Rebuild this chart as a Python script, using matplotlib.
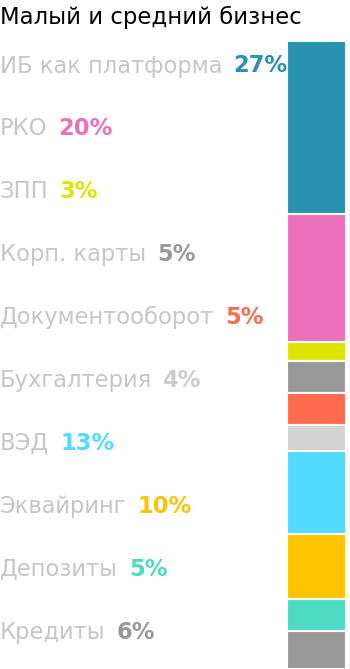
import matplotlib.pyplot as plt

title = 'Малый и средний бизнес'
categories = ['ИБ как платформа', 'РКО', 'ЗПП', 'Корп. карты', 'Документооборот',
              'Бухгалтерия', 'ВЭД', 'Эквайринг', 'Депозиты', 'Кредиты']
shares = [27, 20, 3, 5, 5, 4, 13, 10, 5, 6]
colors = ['#2892b0', '#ec6fbc', '#dfe300', '#999999', '#ff6b4d',
          '#d3d3d3', '#52daff', '#ffc400', '#4ddbc3', '#999999']
label_colors = ['#2892b0', '#ec6fbc', '#dfe300', '#999999', '#ff6b4d',
                '#cccccc', '#52daff', '#ffc400', '#4ddbc3', '#999999']

plt.rcParams['font.family'] = ['DejaVu Sans']

W, H = 350, 669
fig = plt.figure(figsize=(W / 100, H / 100), dpi=100)

# stacked bar on the right
axb = fig.add_axes([287 / W, 0, 59 / W, (H - 41) / H])
bottom = 0
for val, col in zip(shares, colors):
    axb.bar(0, val, bottom=bottom, width=1, color=col, edgecolor='white', linewidth=1.5)
    bottom += val
axb.set_xlim(-0.5, 0.5)
axb.set_ylim(sum(shares), 0)
axb.axis('off')

# labels on the left
axl = fig.add_axes([0, 0, 287 / W, 1])
axl.set_xlim(0, 287)
axl.set_ylim(H, 0)
axl.axis('off')

fig.text(0, 1 - 17 / H, title, fontsize=16.4, color='black', va='center', ha='left')

for i, (cat, val, col) in enumerate(zip(categories, shares, label_colors)):
    y = 66 + i * 62.9
    t = axl.text(0, y, cat, fontsize=16.3, color='#c6c6c6', va='center', ha='left')
    axl.annotate(f'{val}%', xy=(1, 0), xycoords=t, xytext=(8, 0), textcoords='offset points',
                 fontsize=16.3, color=col, fontweight='bold', va='bottom', ha='left')

fig.savefig('out.png', dpi=100)
